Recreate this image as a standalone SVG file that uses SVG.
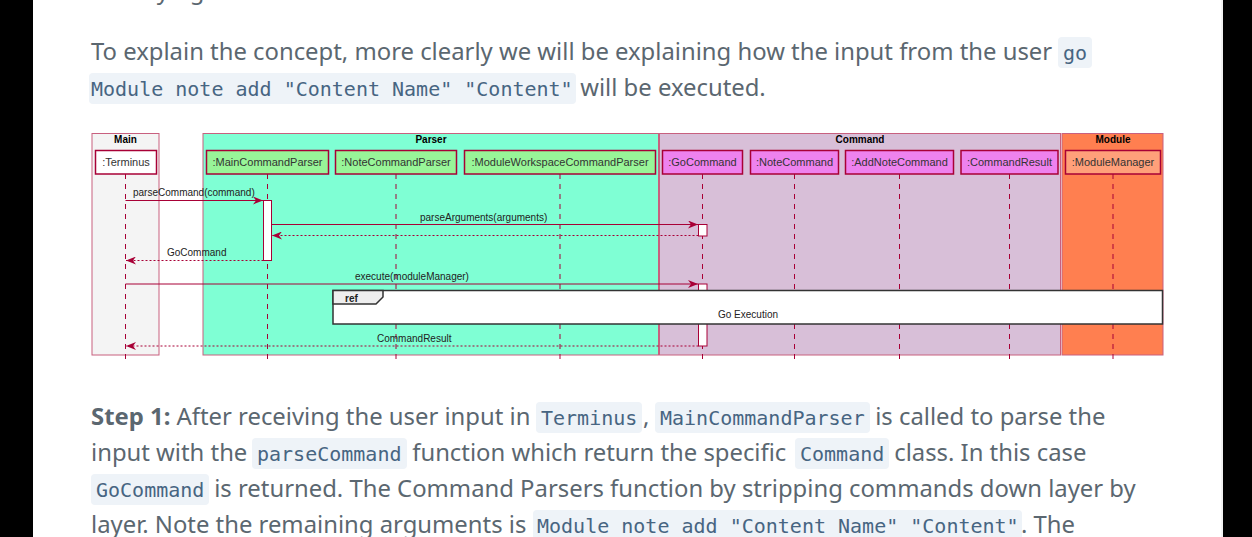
<svg xmlns="http://www.w3.org/2000/svg" width="1252" height="537" viewBox="0 0 1252 537">
<style>
.pg{font-family:"Noto Sans","Open Sans",sans-serif;font-size:23.85px;fill:#5b6770;white-space:pre}
.b{font-weight:bold}
.cd{font-family:"DejaVu Sans Mono","Liberation Mono",monospace;font-size:20px;fill:#476582;white-space:pre}
.cbg{fill:#eef3f8}
.grp{stroke:#C8607F;stroke-width:1}
.ttl{font-family:"Liberation Sans",Arial,sans-serif;font-size:10px;font-weight:bold;fill:#000;text-anchor:middle}
.pt{stroke:#A80036;stroke-width:1.5}
.pl{font-family:"Liberation Sans",Arial,sans-serif;font-size:11px;fill:#333;text-anchor:middle}
.ll{stroke:#A80036;stroke-width:1;stroke-dasharray:5,5;fill:none}
.act{fill:#fff;stroke:#A80036;stroke-width:1}
.msg{stroke:#A80036;stroke-width:1;fill:none}
.ret{stroke:#A80036;stroke-width:1;stroke-dasharray:2,2;fill:none}
.ml{font-family:"Liberation Sans",Arial,sans-serif;font-size:10px;fill:#222}
.par{fill:#98F598}
.cmd{fill:#EE82EE}
</style>
<defs>
<marker id="ah" viewBox="0 0 10 8" refX="10" refY="4" markerWidth="10" markerHeight="8" markerUnits="userSpaceOnUse" orient="auto">
<path d="M0,0 L10,4 L0,8 L3,4 Z" fill="#A80036" stroke="none"/>
</marker>
</defs>
<rect x="0" y="0" width="1252" height="537" fill="#fff"/>
<rect x="0" y="0" width="33" height="537" fill="#000"/>
<rect x="1223" y="0" width="29" height="537" fill="#000"/>
<line x1="1222" y1="0" x2="1222" y2="537" stroke="#e6e6e6"/>

<g id="page-text">
<text class="pg" x="91" y="-1">modifying.</text>
<text class="pg" x="91" y="60">To explain the concept, more clearly we will be explaining how the input from the user</text>
<rect class="cbg" x="1058" y="37" width="34" height="31" rx="4"/>
<text class="cd" x="1063" y="60">go</text>
<rect class="cbg" x="89" y="73" width="487" height="31" rx="4"/>
<text class="cd" x="91" y="96">Module note add "Content Name" "Content"</text>
<text class="pg" x="574" y="96"> will be executed.</text>

<text class="pg" x="91" y="425"><tspan class="b">Step 1:</tspan> After receiving the user input in </text>
<rect class="cbg" x="536" y="402" width="106" height="31" rx="4"/>
<text class="cd" x="541" y="425">Terminus</text>
<text class="pg" x="643" y="425">,</text>
<rect class="cbg" x="655" y="402" width="215" height="31" rx="4"/>
<text class="cd" x="660" y="425">MainCommandParser</text>
<text class="pg" x="869" y="425"> is called to parse the</text>

<text class="pg" x="91" y="461">input with the </text>
<rect class="cbg" x="252" y="438" width="155" height="31" rx="4"/>
<text class="cd" x="257" y="461">parseCommand</text>
<text class="pg" x="406" y="461"> function which return the specific </text>
<rect class="cbg" x="795" y="438" width="94" height="31" rx="4"/>
<text class="cd" x="800" y="461">Command</text>
<text class="pg" x="888" y="461"> class. In this case</text>

<rect class="cbg" x="91" y="474" width="118" height="31" rx="4"/>
<text class="cd" x="96" y="497">GoCommand</text>
<text class="pg" x="208" y="497"> is returned. The Command Parsers function by stripping commands down layer by</text>

<text class="pg" x="91" y="533">layer. Note the remaining arguments is </text>
<rect class="cbg" x="533" y="510" width="489" height="31" rx="4"/>
<text class="cd" x="537" y="533">Module note add "Content Name" "Content"</text>
<text class="pg" x="1021" y="533">. The</text>
</g>

<g id="box-main">
<rect class="grp" x="92" y="133.5" width="67" height="221.5" fill="#F4F4F4"/>
<text class="ttl" x="125.5" y="143">Main</text>
</g>
<g id="box-parser">
<rect class="grp" x="203" y="133.5" width="455.5" height="221.5" fill="#7FFFD4"/>
<text class="ttl" x="431" y="143">Parser</text>
</g>
<g id="box-command">
<rect class="grp" x="659.5" y="133.5" width="401" height="221.5" fill="#D8BFD8"/>
<text class="ttl" x="860" y="143">Command</text>
</g>
<g id="box-module">
<rect class="grp" x="1062" y="133.5" width="101" height="221.5" fill="#FF7F50"/>
<text class="ttl" x="1113" y="143">Module</text>
</g>

<g id="lifelines">
<line class="ll" x1="125.5" y1="174" x2="125.5" y2="359"/>
<line class="ll" x1="267.5" y1="174" x2="267.5" y2="359"/>
<line class="ll" x1="396" y1="174" x2="396" y2="359"/>
<line class="ll" x1="560" y1="174" x2="560" y2="359"/>
<line class="ll" x1="702.5" y1="174" x2="702.5" y2="359"/>
<line class="ll" x1="794.5" y1="174" x2="794.5" y2="359"/>
<line class="ll" x1="899.5" y1="174" x2="899.5" y2="359"/>
<line class="ll" x1="1009.5" y1="174" x2="1009.5" y2="359"/>
<line class="ll" x1="1113" y1="174" x2="1113" y2="359"/>
</g>

<g id="p-terminus"><rect class="pt" x="95.5" y="150.5" width="61" height="23.5" fill="#fff"/><text class="pl" x="126" y="166">:Terminus</text></g>
<g id="p-maincommandparser"><rect class="pt par" x="206.5" y="150.5" width="122" height="23.5"/><text class="pl" x="267.5" y="166">:MainCommandParser</text></g>
<g id="p-notecommandparser"><rect class="pt par" x="335.5" y="150.5" width="121" height="23.5"/><text class="pl" x="396" y="166">:NoteCommandParser</text></g>
<g id="p-moduleworkspacecommandparser"><rect class="pt par" x="464.5" y="150.5" width="191" height="23.5"/><text class="pl" x="560" y="166">:ModuleWorkspaceCommandParser</text></g>
<g id="p-gocommand"><rect class="pt cmd" x="662.5" y="150.5" width="80" height="23.5"/><text class="pl" x="702.5" y="166">:GoCommand</text></g>
<g id="p-notecommand"><rect class="pt cmd" x="750.5" y="150.5" width="88" height="23.5"/><text class="pl" x="794.5" y="166">:NoteCommand</text></g>
<g id="p-addnotecommand"><rect class="pt cmd" x="845.5" y="150.5" width="108" height="23.5"/><text class="pl" x="899.5" y="166">:AddNoteCommand</text></g>
<g id="p-commandresult"><rect class="pt cmd" x="961" y="150.5" width="97" height="23.5"/><text class="pl" x="1009.5" y="166">:CommandResult</text></g>
<g id="p-modulemanager"><rect class="pt" x="1065.5" y="150.5" width="95" height="23.5" fill="#FFA07A"/><text class="pl" x="1113" y="166">:ModuleManager</text></g>

<g id="activations">
<rect class="act" x="263.5" y="200.5" width="8" height="60"/>
<rect class="act" x="698.5" y="224.5" width="8.5" height="11.5"/>
<rect class="act" x="698.5" y="284" width="8.5" height="62"/>
</g>

<g id="connectors">
<line class="msg" x1="125.5" y1="200.5" x2="263" y2="200.5" marker-end="url(#ah)"/>
<text class="ml" x="133" y="196">parseCommand(command)</text>
<line class="msg" x1="271.5" y1="224.5" x2="698" y2="224.5" marker-end="url(#ah)"/>
<text class="ml" x="420" y="220.5">parseArguments(arguments)</text>
<line class="ret" x1="698.5" y1="235.5" x2="272" y2="235.5" marker-end="url(#ah)"/>
<line class="ret" x1="263.5" y1="260.5" x2="126" y2="260.5" marker-end="url(#ah)"/>
<text class="ml" x="167" y="255.5">GoCommand</text>
<line class="msg" x1="125.5" y1="284" x2="698" y2="284" marker-end="url(#ah)"/>
<text class="ml" x="355" y="280">execute(moduleManager)</text>
<line class="ret" x1="698.5" y1="346" x2="126" y2="346" marker-end="url(#ah)"/>
<text class="ml" x="377" y="342">CommandResult</text>
</g>

<g id="ref-go-execution">
<rect x="333" y="290.5" width="829.5" height="33.5" fill="#fff" stroke="#333" stroke-width="1.5"/>
<path d="M333,290.5 H383 V297 L376,304 H333 Z" fill="#EEEEEE" stroke="#333" stroke-width="1.5"/>
<text class="ml b" x="345" y="302" fill="#000">ref</text>
<text class="ml" x="748" y="318" text-anchor="middle">Go Execution</text>
</g>
</svg>
